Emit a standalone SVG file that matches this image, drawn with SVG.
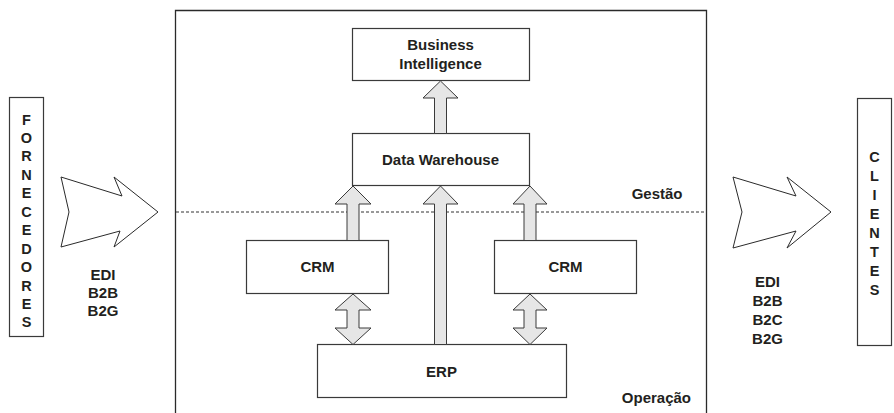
<svg xmlns="http://www.w3.org/2000/svg" width="894" height="413" viewBox="0 0 894 413">
<style>
.box{fill:#fff;stroke:#3a3a3a;stroke-width:1.2}
.frame{fill:none;stroke:#2a2a2a;stroke-width:1.3}
.arr{fill:#e6e6e6;stroke:#3a3a3a;stroke-width:1}
.big{fill:#fff;stroke:#2a2a2a;stroke-width:1}
text{font-family:"Liberation Sans",Arial,sans-serif;font-weight:bold;font-size:15px;fill:#231f20;text-anchor:middle}
.col{font-size:14.5px}
.dash{stroke:#333;stroke-width:1;stroke-dasharray:3,2;fill:none}
</style>
<rect width="894" height="413" fill="#fff"/>
<g id="frame">
<path class="frame" d="M175.5,413 V10.5 H706.5 V413"/>
<line class="dash" x1="176" y1="212" x2="706" y2="212"/>
<text x="682.5" y="199" style="text-anchor:end">Gestão</text>
<text x="691" y="403" style="text-anchor:end">Operação</text>
</g>
<g id="fornecedores">
<rect class="box" x="9.5" y="97.5" width="34" height="239"/>
<text class="col" x="26.5" y="124.5">F</text>
<text class="col" x="26.5" y="143">O</text>
<text class="col" x="26.5" y="161.4">R</text>
<text class="col" x="26.5" y="179.8">N</text>
<text class="col" x="26.5" y="198.3">E</text>
<text class="col" x="26.5" y="216.7">C</text>
<text class="col" x="26.5" y="235.2">E</text>
<text class="col" x="26.5" y="253.6">D</text>
<text class="col" x="26.5" y="272">O</text>
<text class="col" x="26.5" y="290.5">R</text>
<text class="col" x="26.5" y="309">E</text>
<text class="col" x="26.5" y="327.4">S</text>
</g>
<g id="clientes">
<rect class="box" x="857.5" y="98.5" width="34" height="247"/>
<text class="col" x="874.5" y="162">C</text>
<text class="col" x="874.5" y="181">L</text>
<text class="col" x="874.5" y="200">I</text>
<text class="col" x="874.5" y="219">E</text>
<text class="col" x="874.5" y="238">N</text>
<text class="col" x="874.5" y="257">T</text>
<text class="col" x="874.5" y="276">E</text>
<text class="col" x="874.5" y="295.3">S</text>
</g>
<g id="flow-in">
<polygon class="big" points="61,177 122,196 114,177 158,212 114,247 120,231 61,247 69,212"/>
<text x="103" y="279.5">EDI</text>
<text x="103" y="297.5">B2B</text>
<text x="103" y="315.5">B2G</text>
</g>
<g id="flow-out">
<polygon class="big" points="733,177 796,196 787,177 831,212 787,248 796,231 733,248 742,212"/>
<text x="767.5" y="287">EDI</text>
<text x="767.5" y="306">B2B</text>
<text x="767.5" y="325">B2C</text>
<text x="767.5" y="344">B2G</text>
</g>
<g id="bi">
<rect class="box" x="352.5" y="28.5" width="177" height="52"/>
<text x="440.5" y="49.5">Business</text>
<text x="440.5" y="69">Intelligence</text>
</g>
<g id="dw">
<rect class="box" x="352.5" y="133.5" width="177" height="52"/>
<text x="440.5" y="165">Data Warehouse</text>
</g>
<g id="crm-left">
<rect class="box" x="246.5" y="240.5" width="142" height="53"/>
<text x="317.5" y="272">CRM</text>
</g>
<g id="crm-right">
<rect class="box" x="494.5" y="240.5" width="142" height="53"/>
<text x="565.5" y="272">CRM</text>
</g>
<g id="erp">
<rect class="box" x="317.5" y="344.5" width="249" height="53"/>
<text x="441.5" y="377">ERP</text>
</g>
<g id="connectors">
<polygon class="arr" points="440.5,81 458,98 446.5,98 446.5,133.5 434.5,133.5 434.5,98 423,98"/>
<polygon class="arr" points="353,186 371,204 359,204 359,240.5 347,240.5 347,204 335,204"/>
<polygon class="arr" points="440.5,186 458,204 446.5,204 446.5,344.5 434.5,344.5 434.5,204 423,204"/>
<polygon class="arr" points="530,186 547,204 536,204 536,240.5 524,240.5 524,204 513,204"/>
<polygon class="arr" points="353,294 371,310 359,310 359,328 371,328 353,344.5 335,328 347,328 347,310 335,310"/>
<polygon class="arr" points="530,294 547,310 536,310 536,328 547,328 530,344.5 513,328 524,328 524,310 513,310"/>
</g>
</svg>
